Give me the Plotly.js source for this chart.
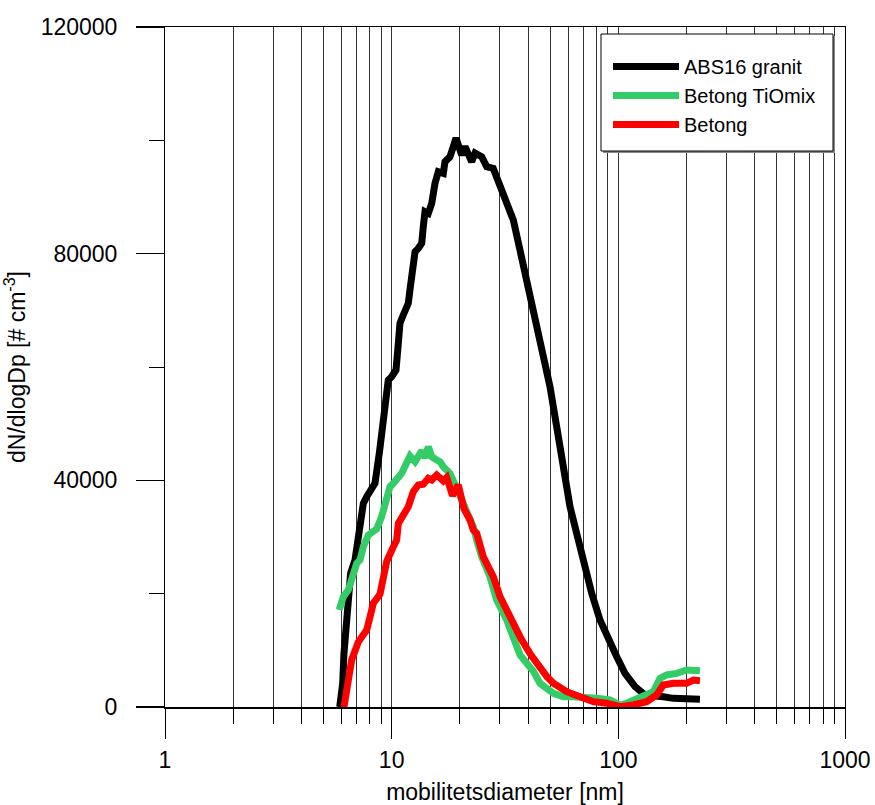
<!DOCTYPE html>
<html>
<head>
<meta charset="utf-8">
<script src="https://cdn.plot.ly/plotly-3.0.1.min.js"></script>
<style>html,body{margin:0;padding:0;background:#fff;}#chart{width:875px;height:805px;}</style>
</head>
<body>
<div id="chart"></div>
<script>
// ---- data ----
const seriesNames = ["ABS16 granit", "Betong TiOmix", "Betong"];

const absX = [5.9, 6.0, 6.08, 6.16, 6.29, 6.44, 6.59, 6.89, 7.25, 7.50, 7.76, 8.16, 8.44, 8.82, 9.19, 9.44, 9.66, 10.0, 10.45, 10.70, 10.88, 11.25, 11.84, 12.04, 12.38, 12.68, 13.11, 13.57, 13.79, 14.03, 14.51, 15.02, 15.53, 16.06, 16.90, 17.19, 18.08, 18.71, 19.23, 20.37, 21.07, 22.55, 23.32, 24.95, 26.26, 28.07, 30.59, 31.62, 34.41, 36.83, 39.4, 41.3, 45.1, 46.66, 49.95, 52.55, 54.35, 57.2, 61.2, 65.5, 71.2, 76.3, 83.0, 88.9, 98.4, 107, 118.5, 131.1, 142.6, 157.8, 174.8, 200.2, 229.1];
const absY = [0, 1500, 4180, 9470, 15350, 21230, 23590, 25940, 31820, 35940, 37110, 38300, 39480, 44770, 50650, 55360, 57700, 58290, 59470, 64180, 67710, 69180, 71240, 73590, 78300, 80350, 80940, 81820, 84760, 87410, 87120, 88880, 92410, 94470, 94180, 96230, 97100, 99470, 100400, 97400, 98900, 96200, 97750, 97100, 95350, 95050, 91230, 90350, 85940, 80600, 75350, 71240, 64760, 61230, 56520, 51230, 47700, 42410, 35350, 30650, 24760, 20060, 15350, 12410, 8880, 5940, 3590, 2120, 2120, 1820, 1530, 1530, 1350];

const tioX = [5.87, 6.12, 6.44, 6.77, 7.01, 7.25, 7.50, 7.89, 8.59, 9.03, 9.19, 9.66, 9.83, 10.17, 10.52, 11.07, 12.04, 12.68, 13.57, 14.03, 14.51, 15.02, 15.80, 16.34, 16.90, 18.08, 19.36, 20.70, 21.43, 22.16, 22.91, 23.72, 24.95, 27.14, 29.05, 32.17, 36.83, 42.17, 45.1, 51.7, 57.2, 63.3, 72.5, 80.3, 91.9, 101.7, 108.8, 120.5, 133.4, 142.6, 152.7, 163.4, 180.9, 200.2, 229.1];
const tioY = [17120, 19470, 20650, 23000, 25350, 25940, 28300, 30350, 31400, 33600, 34760, 38000, 38880, 39470, 40060, 41240, 44300, 43290, 45200, 44000, 45940, 44170, 43590, 43290, 42410, 41200, 38600, 35940, 34180, 33000, 31820, 29470, 26520, 23000, 18880, 15350, 9200, 6300, 4180, 2410, 1820, 1820, 1820, 1530, 1240, 350, 650, 1530, 2120, 2700, 5060, 5650, 5940, 6530, 6410];

const betX = [6.16, 6.44, 6.55, 6.66, 7.13, 7.63, 7.76, 8.03, 8.16, 8.30, 8.88, 9.19, 9.51, 10.17, 10.52, 10.70, 10.88, 11.25, 11.84, 12.46, 13.11, 13.79, 14.51, 15.02, 15.80, 16.90, 17.49, 18.56, 19.67, 20.84, 22.16, 22.91, 23.72, 25.36, 28.07, 30.06, 32.17, 35.6, 37.3, 41.1, 45.5, 48.4, 51.7, 59.2, 67.8, 77.5, 88.9, 101.7, 116.4, 133.4, 147.6, 157.8, 174.8, 200.2, 214.2, 229.1];
const betY = [0, 4760, 6530, 8290, 11500, 13000, 13590, 15940, 17700, 18300, 19900, 23000, 25700, 28290, 29470, 32410, 33000, 34180, 35350, 38000, 39180, 39300, 40350, 40060, 40940, 39900, 40500, 37300, 39200, 35000, 33000, 31240, 30650, 26520, 23000, 19470, 17120, 13000, 12000, 9200, 6530, 5350, 4180, 2700, 1820, 940, 650, 50, 350, 940, 2120, 3880, 4180, 4180, 4760, 4650];

const xMajorTicks = [1, 10, 100, 1000];
const xMajorLabels = ["1", "10", "100", "1000"];
const xMinorTicks = [2,3,4,5,6,7,8,9,20,30,40,50,60,70,80,90,200,300,400,500,600,700,800,900];
const yTicks = [0, 40000, 80000, 120000];
const yTickLabels = ["0", "40000", "80000", "120000"];
const yMinorTicks = [20000, 60000, 100000];

// ---- layout helpers ----
const L = 165, R = 845, T = 27, B = 707;
const px2x = p => (p - L) / (R - L);
const py2y = p => (B - p) / (B - T);
const FONT = "Arial, 'Liberation Sans', Helvetica, sans-serif";

const colors = ["#000000", "#33cc66", "#ff0000"];
const xs = [absX, tioX, betX];
const ys = [absY, tioY, betY];

const traces = seriesNames.map((n, i) => ({
  type: "scatter", mode: "lines", name: n, x: xs[i], y: ys[i],
  line: {color: colors[i], width: 7, shape: "linear"},
  hoverinfo: "skip"
}));

const gridCol = "#333333";
const layout = {
  width: 875, height: 805,
  margin: {l: L, r: 875 - R, t: T, b: 805 - B, pad: 0},
  paper_bgcolor: "#fff", plot_bgcolor: "#fff",
  font: {family: FONT, color: "#000", size: 23},
  showlegend: true,
  xaxis: {
    type: "log", range: [0, 3],
    tickmode: "array", tickvals: xMajorTicks, ticktext: xMajorLabels,
    ticks: "outside", ticklen: 30, tickwidth: 1, tickcolor: "#000",
    ticklabelstandoff: 2,
    showgrid: true, gridcolor: gridCol, gridwidth: 1,
    minor: {tickmode: "array", tickvals: xMinorTicks, ticks: "outside", ticklen: 15, tickwidth: 1, tickcolor: "#000", showgrid: true, gridcolor: gridCol, gridwidth: 1},
    showline: true, linecolor: "#000", linewidth: 1.5, mirror: true,
    zeroline: false,
    tickfont: {size: 23, color: "#000"},
    title: {text: "mobilitetsdiameter [nm]", font: {size: 23, color: "#000"}, standoff: 16}
  },
  yaxis: {
    range: [0, 120000],
    tickmode: "array", tickvals: yTicks, ticktext: yTickLabels,
    ticks: "outside", ticklen: 28, tickwidth: 1.5, tickcolor: "#000",
    ticklabelstandoff: 14,
    showgrid: false,
    minor: {tickmode: "array", tickvals: yMinorTicks, ticks: "outside", ticklen: 15, tickwidth: 1, tickcolor: "#000", showgrid: false},
    showline: true, linecolor: "#000", linewidth: 1, mirror: true,
    zeroline: false,
    tickfont: {size: 23, color: "#000"},
    title: {text: "dN/dlogDp [# cm<sup>-3</sup>]", font: {size: 23, color: "#000"}, standoff: 8}
  },
  legend: {
    x: px2x(608), y: py2y(47), xanchor: "left", yanchor: "top",
    bgcolor: "rgba(0,0,0,0)", borderwidth: 0,
    font: {size: 20, color: "#000"},
    itemwidth: 66, tracegroupgap: 0
  },
  shapes: [
    {type: "rect", xref: "paper", yref: "paper", layer: "above",
     x0: px2x(603), x1: px2x(835), y0: py2y(36), y1: py2y(153),
     fillcolor: "#888888", line: {width: 0}},
    {type: "rect", xref: "paper", yref: "paper", layer: "above",
     x0: px2x(601), x1: px2x(833), y0: py2y(34), y1: py2y(151),
     fillcolor: "#ffffff", line: {color: "#000", width: 1}}
  ]
};

Plotly.newPlot("chart", traces, layout, {displayModeBar: false, staticPlot: true});
</script>
</body>
</html>
